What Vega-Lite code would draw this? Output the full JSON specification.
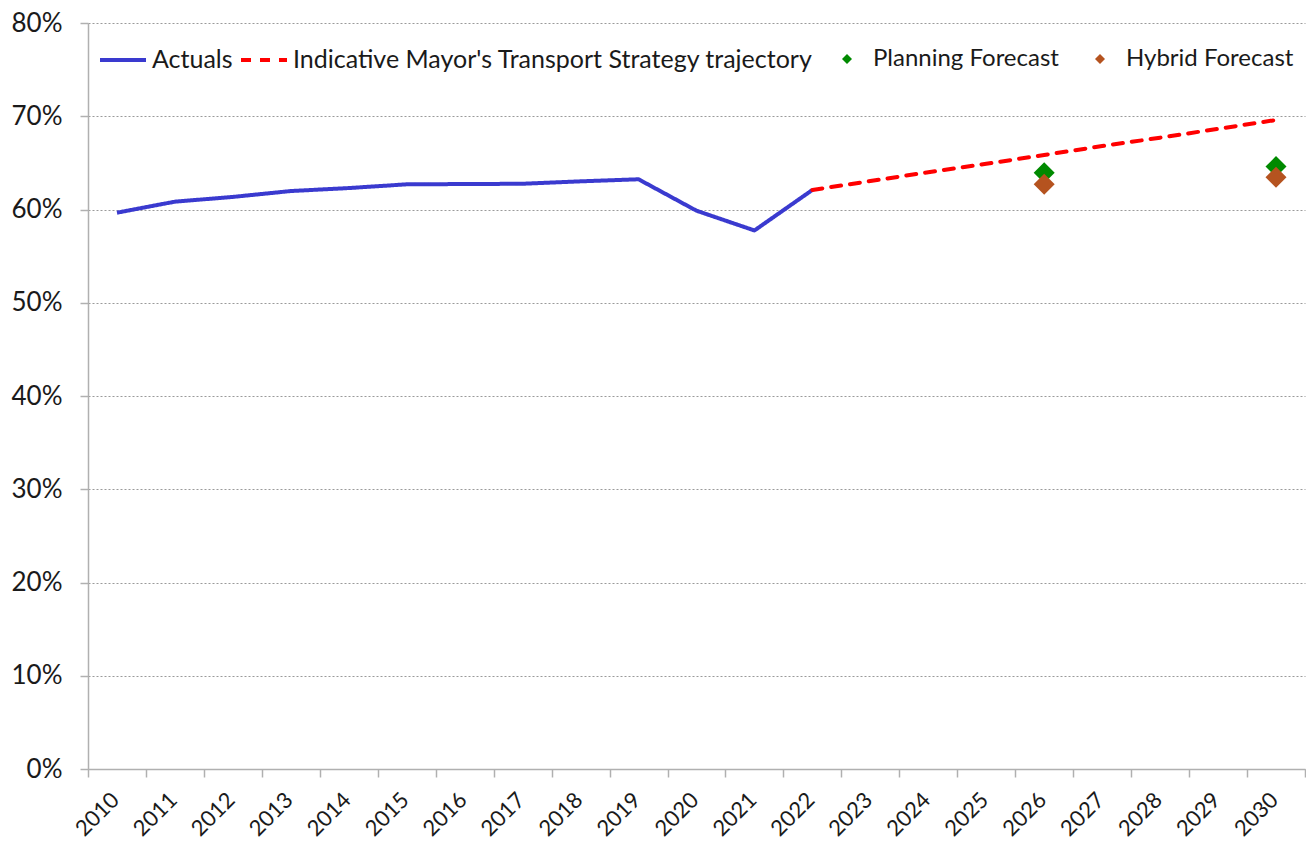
{
  "$schema": "https://vega.github.io/schema/vega-lite/v6.json",
  "width": 1217,
  "height": 746,
  "autosize": {"type": "none"},
  "padding": {"left": 88, "top": 23, "right": 1, "bottom": 74},
  "background": "white",
  "config": {
    "font": "Lato",
    "view": {"stroke": null},
    "axis": {
      "domainColor": "#b0b0b0",
      "domainWidth": 1.5,
      "tickColor": "#b0b0b0",
      "tickWidth": 1.5,
      "tickSize": 8,
      "labelColor": "#1a1a1a",
      "labelFont": "Lato",
      "title": null
    },
    "legend": {
      "labelFont": "Lato",
      "labelFontSize": 25,
      "labelColor": "#1a1a1a",
      "labelLimit": 0,
      "title": null
    }
  },
  "datasets": {
    "lines": [
      {"year": 2010, "value": 0.5966, "series": "Actuals"},
      {"year": 2011, "value": 0.6084, "series": "Actuals"},
      {"year": 2012, "value": 0.6135, "series": "Actuals"},
      {"year": 2013, "value": 0.6198, "series": "Actuals"},
      {"year": 2014, "value": 0.6230, "series": "Actuals"},
      {"year": 2015, "value": 0.6270, "series": "Actuals"},
      {"year": 2016, "value": 0.6273, "series": "Actuals"},
      {"year": 2017, "value": 0.6276, "series": "Actuals"},
      {"year": 2018, "value": 0.6302, "series": "Actuals"},
      {"year": 2019, "value": 0.6324, "series": "Actuals"},
      {"year": 2020, "value": 0.5987, "series": "Actuals"},
      {"year": 2021, "value": 0.5775, "series": "Actuals"},
      {"year": 2022, "value": 0.6210, "series": "Actuals"},
      {"year": 2022, "value": 0.6210, "series": "Indicative Mayor's Transport Strategy trajectory"},
      {"year": 2023, "value": 0.6305, "series": "Indicative Mayor's Transport Strategy trajectory"},
      {"year": 2024, "value": 0.6400, "series": "Indicative Mayor's Transport Strategy trajectory"},
      {"year": 2025, "value": 0.6490, "series": "Indicative Mayor's Transport Strategy trajectory"},
      {"year": 2026, "value": 0.6585, "series": "Indicative Mayor's Transport Strategy trajectory"},
      {"year": 2027, "value": 0.6680, "series": "Indicative Mayor's Transport Strategy trajectory"},
      {"year": 2028, "value": 0.6770, "series": "Indicative Mayor's Transport Strategy trajectory"},
      {"year": 2029, "value": 0.6865, "series": "Indicative Mayor's Transport Strategy trajectory"},
      {"year": 2030, "value": 0.6960, "series": "Indicative Mayor's Transport Strategy trajectory"}
    ],
    "points": [
      {"year": 2026, "value": 0.6395, "forecast": "Planning Forecast"},
      {"year": 2030, "value": 0.6460, "forecast": "Planning Forecast"},
      {"year": 2026, "value": 0.6270, "forecast": "Hybrid Forecast"},
      {"year": 2030, "value": 0.6345, "forecast": "Hybrid Forecast"}
    ]
  },
  "encoding": {
    "x": {
      "field": "year",
      "type": "ordinal",
      "bandPosition": 0.5,
      "scale": {"type": "band", "paddingInner": 0, "paddingOuter": 0},
      "axis": {
        "labelAngle": -45,
        "labelFontSize": 22,
        "labelPadding": 12,
        "labelOffset": -9,
        "tickBand": "extent",
        "grid": false
      }
    },
    "y": {
      "field": "value",
      "type": "quantitative",
      "scale": {"domain": [0, 0.8], "nice": false, "zero": true},
      "axis": {
        "values": [0, 0.1, 0.2, 0.3, 0.4, 0.5, 0.6, 0.7, 0.8],
        "format": ".0%",
        "labelFontSize": 26,
        "labelPadding": 18,
        "grid": true,
        "gridColor": "#9a9a9a",
        "gridDash": [2, 2],
        "gridWidth": 1
      }
    }
  },
  "layer": [
    {
      "data": {"name": "lines"},
      "transform": [{"filter": "datum.series === 'Actuals'"}],
      "mark": {"type": "line", "strokeWidth": 4, "strokeCap": "butt", "strokeJoin": "round"},
      "encoding": {
        "stroke": {
          "field": "series",
          "type": "nominal",
          "sort": null,
          "scale": {
            "domain": ["Actuals", "Indicative Mayor's Transport Strategy trajectory"],
            "range": ["#3a3acf", "#ff0000"]
          },
          "legend": {
            "orient": "none",
            "direction": "horizontal",
            "legendX": 10,
            "legendY": 12,
            "symbolType": "stroke",
            "symbolSize": 2116,
            "symbolStrokeWidth": 4,
            "labelOffset": 4,
            "columnPadding": 0,
            "labelFontSize": 25
          }
        },
        "strokeDash": {
          "field": "series",
          "type": "nominal",
          "sort": null,
          "scale": {
            "domain": ["Actuals", "Indicative Mayor's Transport Strategy trajectory"],
            "range": [[1, 0], [10, 9]]
          },
          "legend": {
            "orient": "none",
            "direction": "horizontal",
            "legendX": 10,
            "legendY": 12,
            "symbolType": "stroke",
            "symbolSize": 2116,
            "symbolStrokeWidth": 4,
            "labelOffset": 4,
            "columnPadding": 0,
            "labelFontSize": 25
          }
        }
      }
    },
    {
      "data": {"name": "lines"},
      "transform": [{"filter": "datum.series !== 'Actuals'"}],
      "mark": {"type": "line", "strokeWidth": 4, "strokeCap": "round"},
      "encoding": {
        "stroke": {"field": "series", "type": "nominal", "sort": null},
        "strokeDash": {"field": "series", "type": "nominal", "sort": null}
      }
    },
    {
      "data": {"name": "points"},
      "mark": {"type": "point", "shape": "diamond", "filled": true, "size": 441, "opacity": 1},
      "encoding": {
        "fill": {
          "field": "forecast",
          "type": "nominal",
          "sort": null,
          "scale": {
            "domain": ["Planning Forecast", "Hybrid Forecast"],
            "range": ["#008a00", "#b5531f"]
          },
          "legend": {
            "orient": "none",
            "direction": "horizontal",
            "legendX": 747,
            "legendY": 24,
            "symbolType": "diamond",
            "symbolSize": 100,
            "labelOffset": 14,
            "columnPadding": 29,
            "labelFontSize": 24
          }
        }
      }
    }
  ]
}
